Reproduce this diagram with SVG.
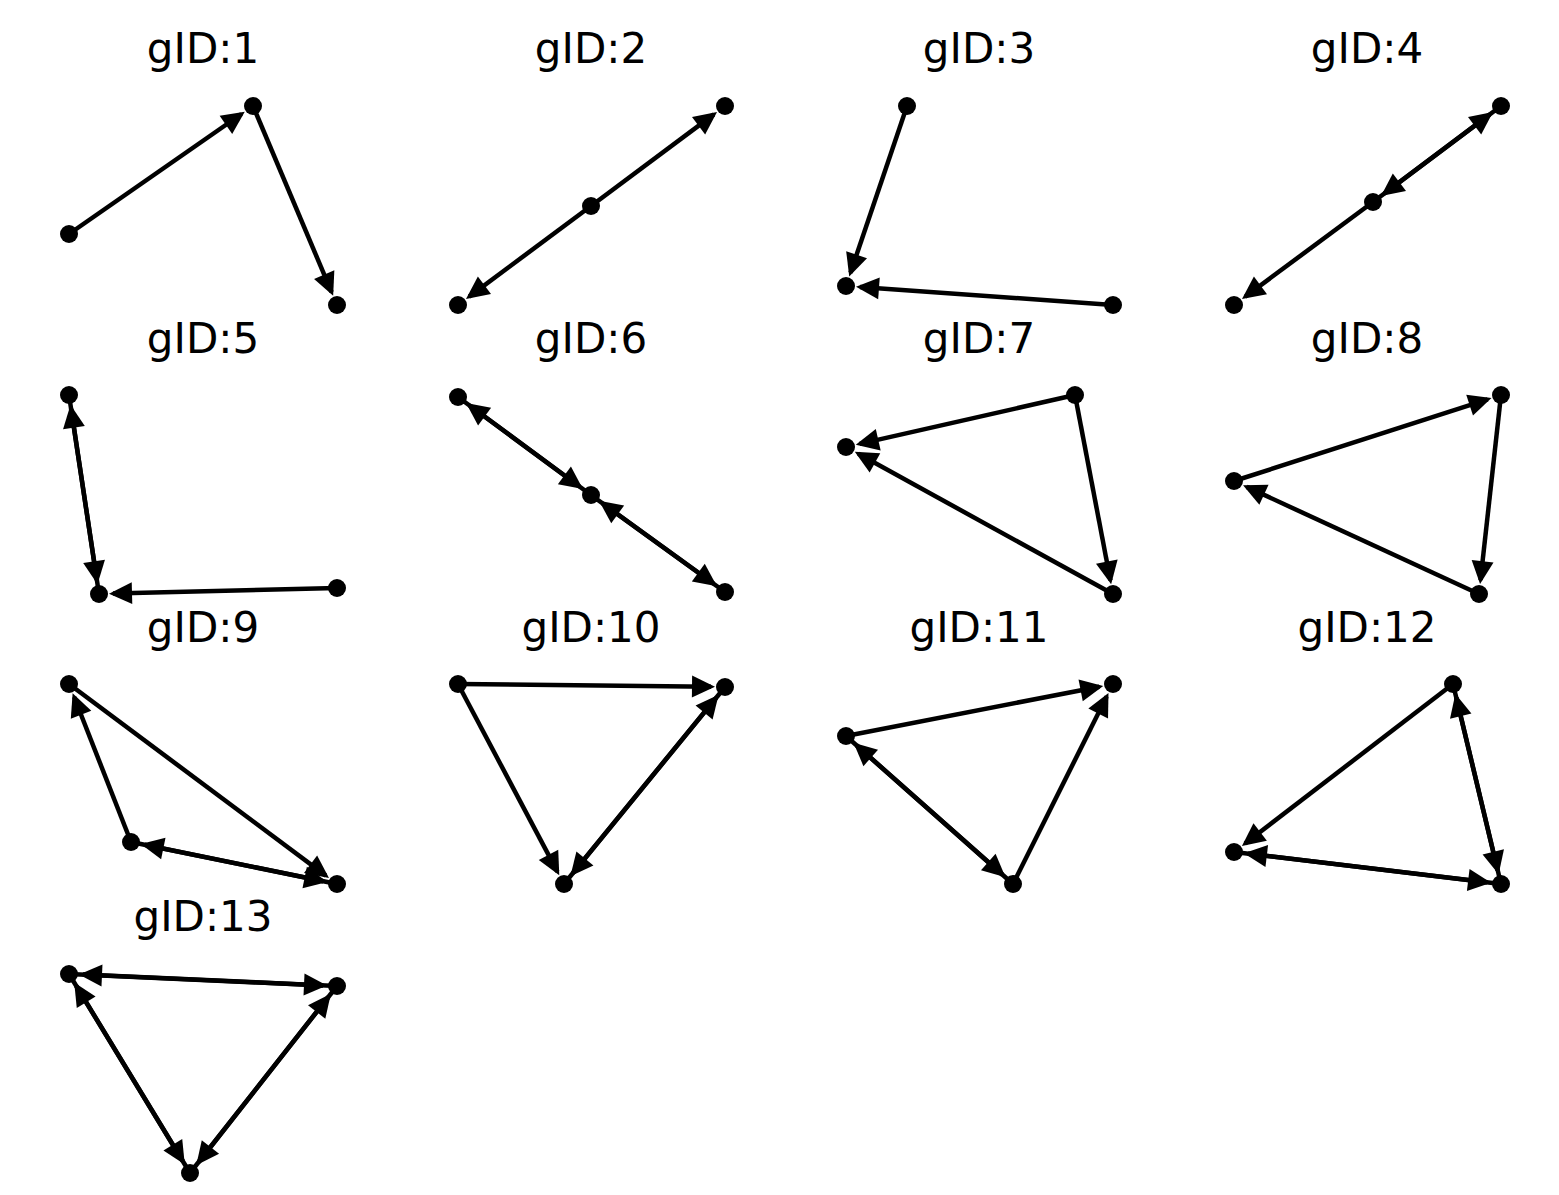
<svg xmlns="http://www.w3.org/2000/svg" width="1559" height="1195" viewBox="0 0 1559 1195">
<defs>
<marker id="ah" markerUnits="userSpaceOnUse" markerWidth="30" markerHeight="30" refX="-4" refY="0" orient="auto" overflow="visible">
<path d="M0,0 L-23,-11 L-23,11 Z" fill="#000"/>
</marker>
</defs>
<style>
.t{font-family:"DejaVu Sans",sans-serif;font-size:42px;fill:#000;text-anchor:middle}
.e line{stroke:#000;stroke-width:4.5;marker-end:url(#ah)}
.n circle{fill:#000}
</style>
<rect width="1559" height="1195" fill="#fff"/>
<g id="titles">
<text class="t" x="203" y="63">gID:1</text>
<text class="t" x="591" y="63">gID:2</text>
<text class="t" x="979" y="63">gID:3</text>
<text class="t" x="1367" y="63">gID:4</text>
<text class="t" x="203" y="353">gID:5</text>
<text class="t" x="591" y="353">gID:6</text>
<text class="t" x="979" y="353">gID:7</text>
<text class="t" x="1367" y="353">gID:8</text>
<text class="t" x="203" y="642">gID:9</text>
<text class="t" x="591" y="642">gID:10</text>
<text class="t" x="979" y="642">gID:11</text>
<text class="t" x="1367" y="642">gID:12</text>
<text class="t" x="203" y="931">gID:13</text>
</g>
<g id="connectors" class="e">
<line x1="69" y1="234" x2="241.5" y2="114"/>
<line x1="253" y1="106" x2="331.6" y2="292.1"/>
<line x1="591" y1="206" x2="713.8" y2="114.4"/>
<line x1="591" y1="206" x2="469.2" y2="296.6"/>
<line x1="907" y1="106" x2="850.5" y2="272.7"/>
<line x1="1113" y1="305" x2="860" y2="287"/>
<line x1="1373" y1="202" x2="1489.8" y2="114.4"/>
<line x1="1501" y1="106" x2="1384.2" y2="193.6"/>
<line x1="1373" y1="202" x2="1245.2" y2="296.7"/>
<line x1="99" y1="594" x2="71.1" y2="408.8"/>
<line x1="69" y1="395" x2="96.9" y2="580.2"/>
<line x1="337" y1="588" x2="113" y2="593.6"/>
<line x1="591" y1="495" x2="469.3" y2="405.3"/>
<line x1="458" y1="397" x2="579.7" y2="486.7"/>
<line x1="725" y1="592" x2="602.3" y2="503.2"/>
<line x1="591" y1="495" x2="713.7" y2="583.8"/>
<line x1="1075" y1="395" x2="859.7" y2="443.9"/>
<line x1="1075" y1="395" x2="1110.4" y2="580.3"/>
<line x1="1113" y1="594" x2="858.3" y2="453.8"/>
<line x1="1234" y1="481" x2="1487.7" y2="399.3"/>
<line x1="1501" y1="395" x2="1480.5" y2="580.1"/>
<line x1="1479" y1="594" x2="1246.7" y2="486.9"/>
<line x1="69" y1="684" x2="325.8" y2="875.6"/>
<line x1="131" y1="842" x2="74.1" y2="697"/>
<line x1="337" y1="884" x2="144.7" y2="844.8"/>
<line x1="131" y1="842" x2="323.3" y2="881.2"/>
<line x1="458" y1="684" x2="711" y2="686.8"/>
<line x1="458" y1="684" x2="557.4" y2="871.6"/>
<line x1="725" y1="687" x2="572.9" y2="873.2"/>
<line x1="564" y1="884" x2="716.1" y2="697.8"/>
<line x1="846" y1="736" x2="1099.3" y2="686.7"/>
<line x1="1013" y1="884" x2="1106.7" y2="696.5"/>
<line x1="1013" y1="884" x2="856.5" y2="745.3"/>
<line x1="846" y1="736" x2="1002.5" y2="874.7"/>
<line x1="1453" y1="684" x2="1245.1" y2="843.5"/>
<line x1="1501" y1="884" x2="1456.3" y2="697.6"/>
<line x1="1453" y1="684" x2="1497.7" y2="870.4"/>
<line x1="1501" y1="884" x2="1247.9" y2="853.7"/>
<line x1="1234" y1="852" x2="1487.1" y2="882.3"/>
<line x1="69" y1="974" x2="323" y2="985.4"/>
<line x1="337" y1="986" x2="83" y2="974.6"/>
<line x1="69" y1="974" x2="182.7" y2="1161"/>
<line x1="190" y1="1173" x2="76.3" y2="986"/>
<line x1="337" y1="986" x2="198.7" y2="1162"/>
<line x1="190" y1="1173" x2="328.4" y2="997"/>
</g>
<g class="n">
<g id="g1"><circle cx="69" cy="234" r="9"/><circle cx="253" cy="106" r="9"/><circle cx="337" cy="305" r="9"/></g>
<g id="g2"><circle cx="458" cy="305" r="9"/><circle cx="591" cy="206" r="9"/><circle cx="725" cy="106" r="9"/></g>
<g id="g3"><circle cx="907" cy="106" r="9"/><circle cx="846" cy="286" r="9"/><circle cx="1113" cy="305" r="9"/></g>
<g id="g4"><circle cx="1501" cy="106" r="9"/><circle cx="1373" cy="202" r="9"/><circle cx="1234" cy="305" r="9"/></g>
<g id="g5"><circle cx="69" cy="395" r="9"/><circle cx="99" cy="594" r="9"/><circle cx="337" cy="588" r="9"/></g>
<g id="g6"><circle cx="458" cy="397" r="9"/><circle cx="591" cy="495" r="9"/><circle cx="725" cy="592" r="9"/></g>
<g id="g7"><circle cx="1075" cy="395" r="9"/><circle cx="846" cy="447" r="9"/><circle cx="1113" cy="594" r="9"/></g>
<g id="g8"><circle cx="1501" cy="395" r="9"/><circle cx="1234" cy="481" r="9"/><circle cx="1479" cy="594" r="9"/></g>
<g id="g9"><circle cx="69" cy="684" r="9"/><circle cx="131" cy="842" r="9"/><circle cx="337" cy="884" r="9"/></g>
<g id="g10"><circle cx="458" cy="684" r="9"/><circle cx="725" cy="687" r="9"/><circle cx="564" cy="884" r="9"/></g>
<g id="g11"><circle cx="1113" cy="684" r="9"/><circle cx="846" cy="736" r="9"/><circle cx="1013" cy="884" r="9"/></g>
<g id="g12"><circle cx="1453" cy="684" r="9"/><circle cx="1234" cy="852" r="9"/><circle cx="1501" cy="884" r="9"/></g>
<g id="g13"><circle cx="69" cy="974" r="9"/><circle cx="337" cy="986" r="9"/><circle cx="190" cy="1173" r="9"/></g>
</g>
</svg>
